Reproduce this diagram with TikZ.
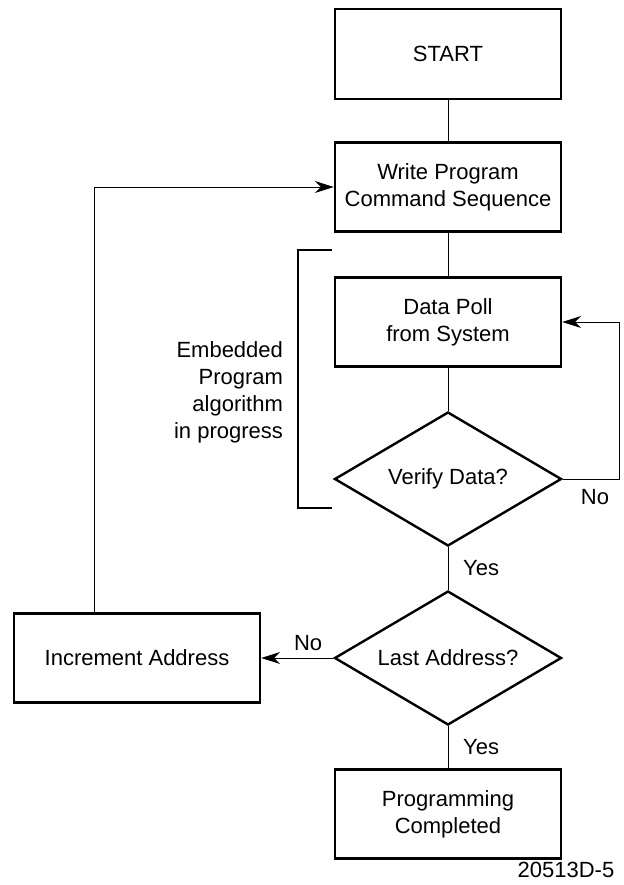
\documentclass[tikz,border=0pt]{standalone}
\usepackage{xcolor}
\usepackage{fontspec}
\setmainfont{Liberation Sans}
\usepackage{tikz}
\usetikzlibrary{shapes.geometric,arrows.meta}

\begin{document}
\begin{tikzpicture}[x=0.5pt, y=-0.5pt,
        every node/.style={font=\fontsize{11}{13.5}\selectfont},
        box/.style={draw, line width=1.2pt, minimum width=113pt, minimum height=44.5pt, align=center, inner sep=0pt},
        choice/.style={draw, diamond, line width=1.2pt, aspect=1.7, minimum width=113.5pt, minimum height=67pt, inner sep=0pt},
        flow/.style={line width=0.5pt},
        arrow/.style={flow, -{Stealth[length=9.5pt, width=6pt]}}]
        \useasboundingbox (0,0) rectangle (624,885);

        \node[box, minimum height=45pt] (start) at (448,54) {START};
        \node[box] (write) at (448,187) {Write Program\\Command Sequence};
        \node[box] (poll) at (448,322) {Data Poll\\from System};
        \node[choice] (verify) at (448,479) {Verify Data?};
        \node[choice] (last) at (448,658) {Last Address?};
        \node[box, minimum width=123pt] (incr) at (137,658) {Increment Address};
        \node[box] (done) at (448,814) {Programming\\Completed};

        \draw[flow] (start) -- (write);
        \draw[flow] (write) -- (poll);
        \draw[flow] (poll) -- (verify);
        \draw[flow] (verify) -- node[right=4pt] {Yes} (last);
        \draw[flow] (last) -- node[right=4pt] {Yes} (done);

        \coordinate (loop) at (619,479);
        \draw[arrow] (verify.east) -- (loop) |- (poll.east);
        \node (no) at (595,497) {No};
        \draw[arrow] (last.west) -- node[above, pos=0.35] {No} (incr.east);
        \draw[arrow] ([xshift=-21.5pt]incr.north) |- (write.west);

        \draw[line width=1.2pt] (332,250) -- (298,250) -- (298,508) -- (332,508);
        \node[anchor=east, align=right] (embedded) at (290,392) {Embedded\\Program\\algorithm\\in progress};

        \node (code) at (566,870) {20513D-5};
    \end{tikzpicture}
\end{document}
